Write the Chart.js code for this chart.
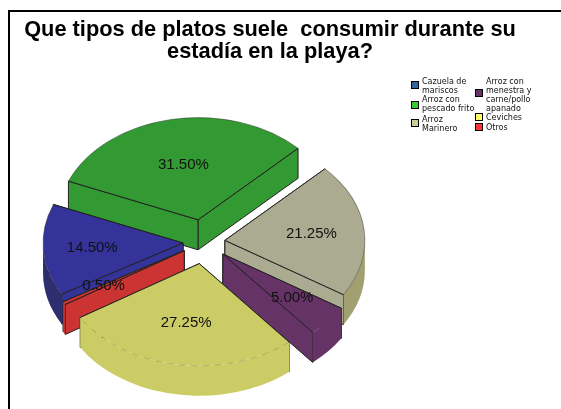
<!DOCTYPE html>
<html>
<head>
<meta charset="utf-8">
<title>Platos</title>
<script src="https://cdn.jsdelivr.net/npm/chart.js@4"></script>
<style>
    html, body { margin: 0; padding: 0; background: #fff; overflow: hidden; }
    #wrap { position: relative; width: 561px; height: 409px; overflow: hidden; }
    #frame { position: absolute; left: 8px; top: 10px; width: 560px; height: 420px; border-left: 2px solid #000; border-top: 2px solid #000; box-sizing: border-box; }
    canvas { position: absolute; left: 0; top: 0; }
    .legend-item { position: absolute; white-space: pre; font: 8px/9px "DejaVu Sans", sans-serif; color: #111; }
    .legend-item i { position: absolute; left: -11px; width: 6px; height: 6px; border: 1px solid #000; }
</style>
</head>
<body>
<div id="wrap">
    <div id="frame"></div>
    <canvas id="chart" width="561" height="409"></canvas>
    <div id="legend"></div>
</div>
<script>
const titleLines = ['Que tipos de platos suele  consumir durante su', 'estadía en la playa?'];
const categories = ['Cazuela de\nmariscos', 'Arroz con\npescado frito', 'Arroz\nMarinero', 'Arroz con\nmenestra y\ncarne/pollo\napanado', 'Ceviches', 'Otros'];
const percentages = [14.5, 31.5, 21.25, 5, 27.25, 0.5];

const sliceColors = ['#333399', '#339933', '#abab91', '#663366', '#cccc66', '#cc3333'];
const wallColors = ['#2e2e6e', '#2c8a2c', '#a0a070', '#663366', '#cccc66', '#b83030'];
const legendColors = ['#336699', '#33cc33', '#cccc99', '#663366', '#ffff66', '#ff3333'];

// pie placement on the page
const CX = 204, CY = 242, TILT = 0.73, DEPTH = 30;
// how far each slice is pulled out, and how far from its tip the label sits
const explode = [21, 31, 21, 25, 30, 23];
const labelDist = [91, 76, 87, 92, 82, 94];
// legend layout: column x, swatch y, text y
const legendPos = [[422, 81, 77], [422, 101, 95], [422, 119, 115], [486, 89, 77], [486, 113, 113], [486, 123, 123]];

function sliceGeometry(arc, i) {
    const p = arc.getProps(['startAngle', 'endAngle', 'outerRadius']);
    const mid = (p.startAngle + p.endAngle) / 2;
    return {
        arc, i, a: p.startAngle, b: p.endAngle, r: p.outerRadius, mid,
        x: CX + Math.cos(mid) * explode[i],
        y: CY + Math.sin(mid) * explode[i] * TILT
    };
}

function rim(s, angle) {
    return [s.x + Math.cos(angle) * s.r, s.y + Math.sin(angle) * s.r * TILT];
}

function drawRadialWall(ctx, s, angle, color) {
    const [px, py] = rim(s, angle);
    ctx.beginPath();
    ctx.moveTo(s.x, s.y);
    ctx.lineTo(px, py);
    ctx.lineTo(px, py + DEPTH);
    ctx.lineTo(s.x, s.y + DEPTH);
    ctx.closePath();
    ctx.fillStyle = color;
    ctx.fill();
    ctx.strokeStyle = '#222';
    ctx.lineWidth = 1;
    ctx.stroke();
}

function drawCurvedWall(ctx, s, color) {
    // only the part facing the viewer
    for (let k = 0; k < 2; k++) {
        const lo = Math.max(s.a, 2 * Math.PI * k);
        const hi = Math.min(s.b, 2 * Math.PI * k + Math.PI);
        if (lo >= hi) continue;
        ctx.beginPath();
        ctx.ellipse(s.x, s.y, s.r, s.r * TILT, 0, lo, hi);
        ctx.ellipse(s.x, s.y + DEPTH, s.r, s.r * TILT, 0, hi, lo, true);
        ctx.closePath();
        ctx.fillStyle = color;
        ctx.fill();
    }
}

const tiltedPie = {
    id: 'tiltedPie',
    beforeDatasetDraw(chart, args) {
        const ctx = chart.ctx;
        const slices = args.meta.data.map(sliceGeometry);
        // back slices first
        slices.sort((s1, s2) => Math.sin(s1.mid) - Math.sin(s2.mid));
        slices.forEach(s => {
            const base = sliceColors[s.i];
            const walls = [s.a, s.b].sort((a1, a2) => rim(s, a1)[1] - rim(s, a2)[1]);
            walls.forEach(angle => drawRadialWall(ctx, s, angle, base));
            drawCurvedWall(ctx, s, wallColors[s.i]);

            // top face is the library's own arc, squashed
            ctx.save();
            ctx.translate(s.x, s.y);
            ctx.scale(1, TILT);
            ctx.translate(-s.arc.x, -s.arc.y);
            s.arc.draw(ctx);
            ctx.restore();

            // rim is faint and broken on the front of the pie
            ctx.save();
            ctx.beginPath();
            ctx.ellipse(s.x, s.y, s.r, s.r * TILT, 0, s.a, s.b);
            const front = Math.sin(s.mid) > 0.5;
            ctx.setLineDash(front ? [6, 6] : []);
            ctx.strokeStyle = front ? 'rgba(90,90,40,0.3)' : 'rgba(30,30,30,0.4)';
            ctx.lineWidth = 1;
            ctx.stroke();
            ctx.restore();

            ctx.beginPath();
            const [x1, y1] = rim(s, s.a);
            const [x2, y2] = rim(s, s.b);
            ctx.moveTo(x1, y1);
            ctx.lineTo(s.x, s.y);
            ctx.lineTo(x2, y2);
            ctx.strokeStyle = '#222';
            ctx.stroke();
        });
        return false;
    },
    afterDatasetsDraw(chart) {
        const ctx = chart.ctx;
        const slices = chart.getDatasetMeta(0).data.map(sliceGeometry);
        ctx.save();
        ctx.font = '15px "Liberation Sans", Arial, sans-serif';
        ctx.fillStyle = '#111';
        ctx.textAlign = 'center';
        ctx.textBaseline = 'middle';
        slices.forEach(s => {
            const lx = s.x + Math.cos(s.mid) * labelDist[s.i];
            const ly = s.y + Math.sin(s.mid) * labelDist[s.i] * TILT;
            ctx.fillText(percentages[s.i].toFixed(2) + '%', lx, ly);
        });
        ctx.restore();
    }
};

const chart = new Chart(document.getElementById('chart').getContext('2d'), {
    type: 'pie',
    data: {
        labels: categories,
        datasets: [{
            data: percentages,
            backgroundColor: sliceColors,
            borderWidth: 0
        }]
    },
    options: {
        responsive: false,
        animation: false,
        rotation: 240,
        radius: 140,
        layout: { padding: { right: 21 } },
        plugins: {
            legend: { display: false },
            tooltip: { enabled: false },
            title: {
                display: true,
                text: titleLines,
                color: '#000',
                font: { family: '"Liberation Sans", Arial, sans-serif', size: 21.8, weight: 'bold', lineHeight: 1.02 },
                padding: { top: 19, bottom: 6 }
            }
        }
    },
    plugins: [tiltedPie]
});

// legend with wrapped labels, two columns
const legendBox = document.getElementById('legend');
categories.forEach((name, i) => {
    const [lx, swatchY, textY] = legendPos[i];
    const item = document.createElement('div');
    item.className = 'legend-item';
    item.style.left = lx + 'px';
    item.style.top = textY + 'px';
    item.textContent = name;
    const swatch = document.createElement('i');
    swatch.style.background = legendColors[i];
    swatch.style.top = (swatchY - textY) + 'px';
    item.appendChild(swatch);
    legendBox.appendChild(item);
});
</script>
</body>
</html>
